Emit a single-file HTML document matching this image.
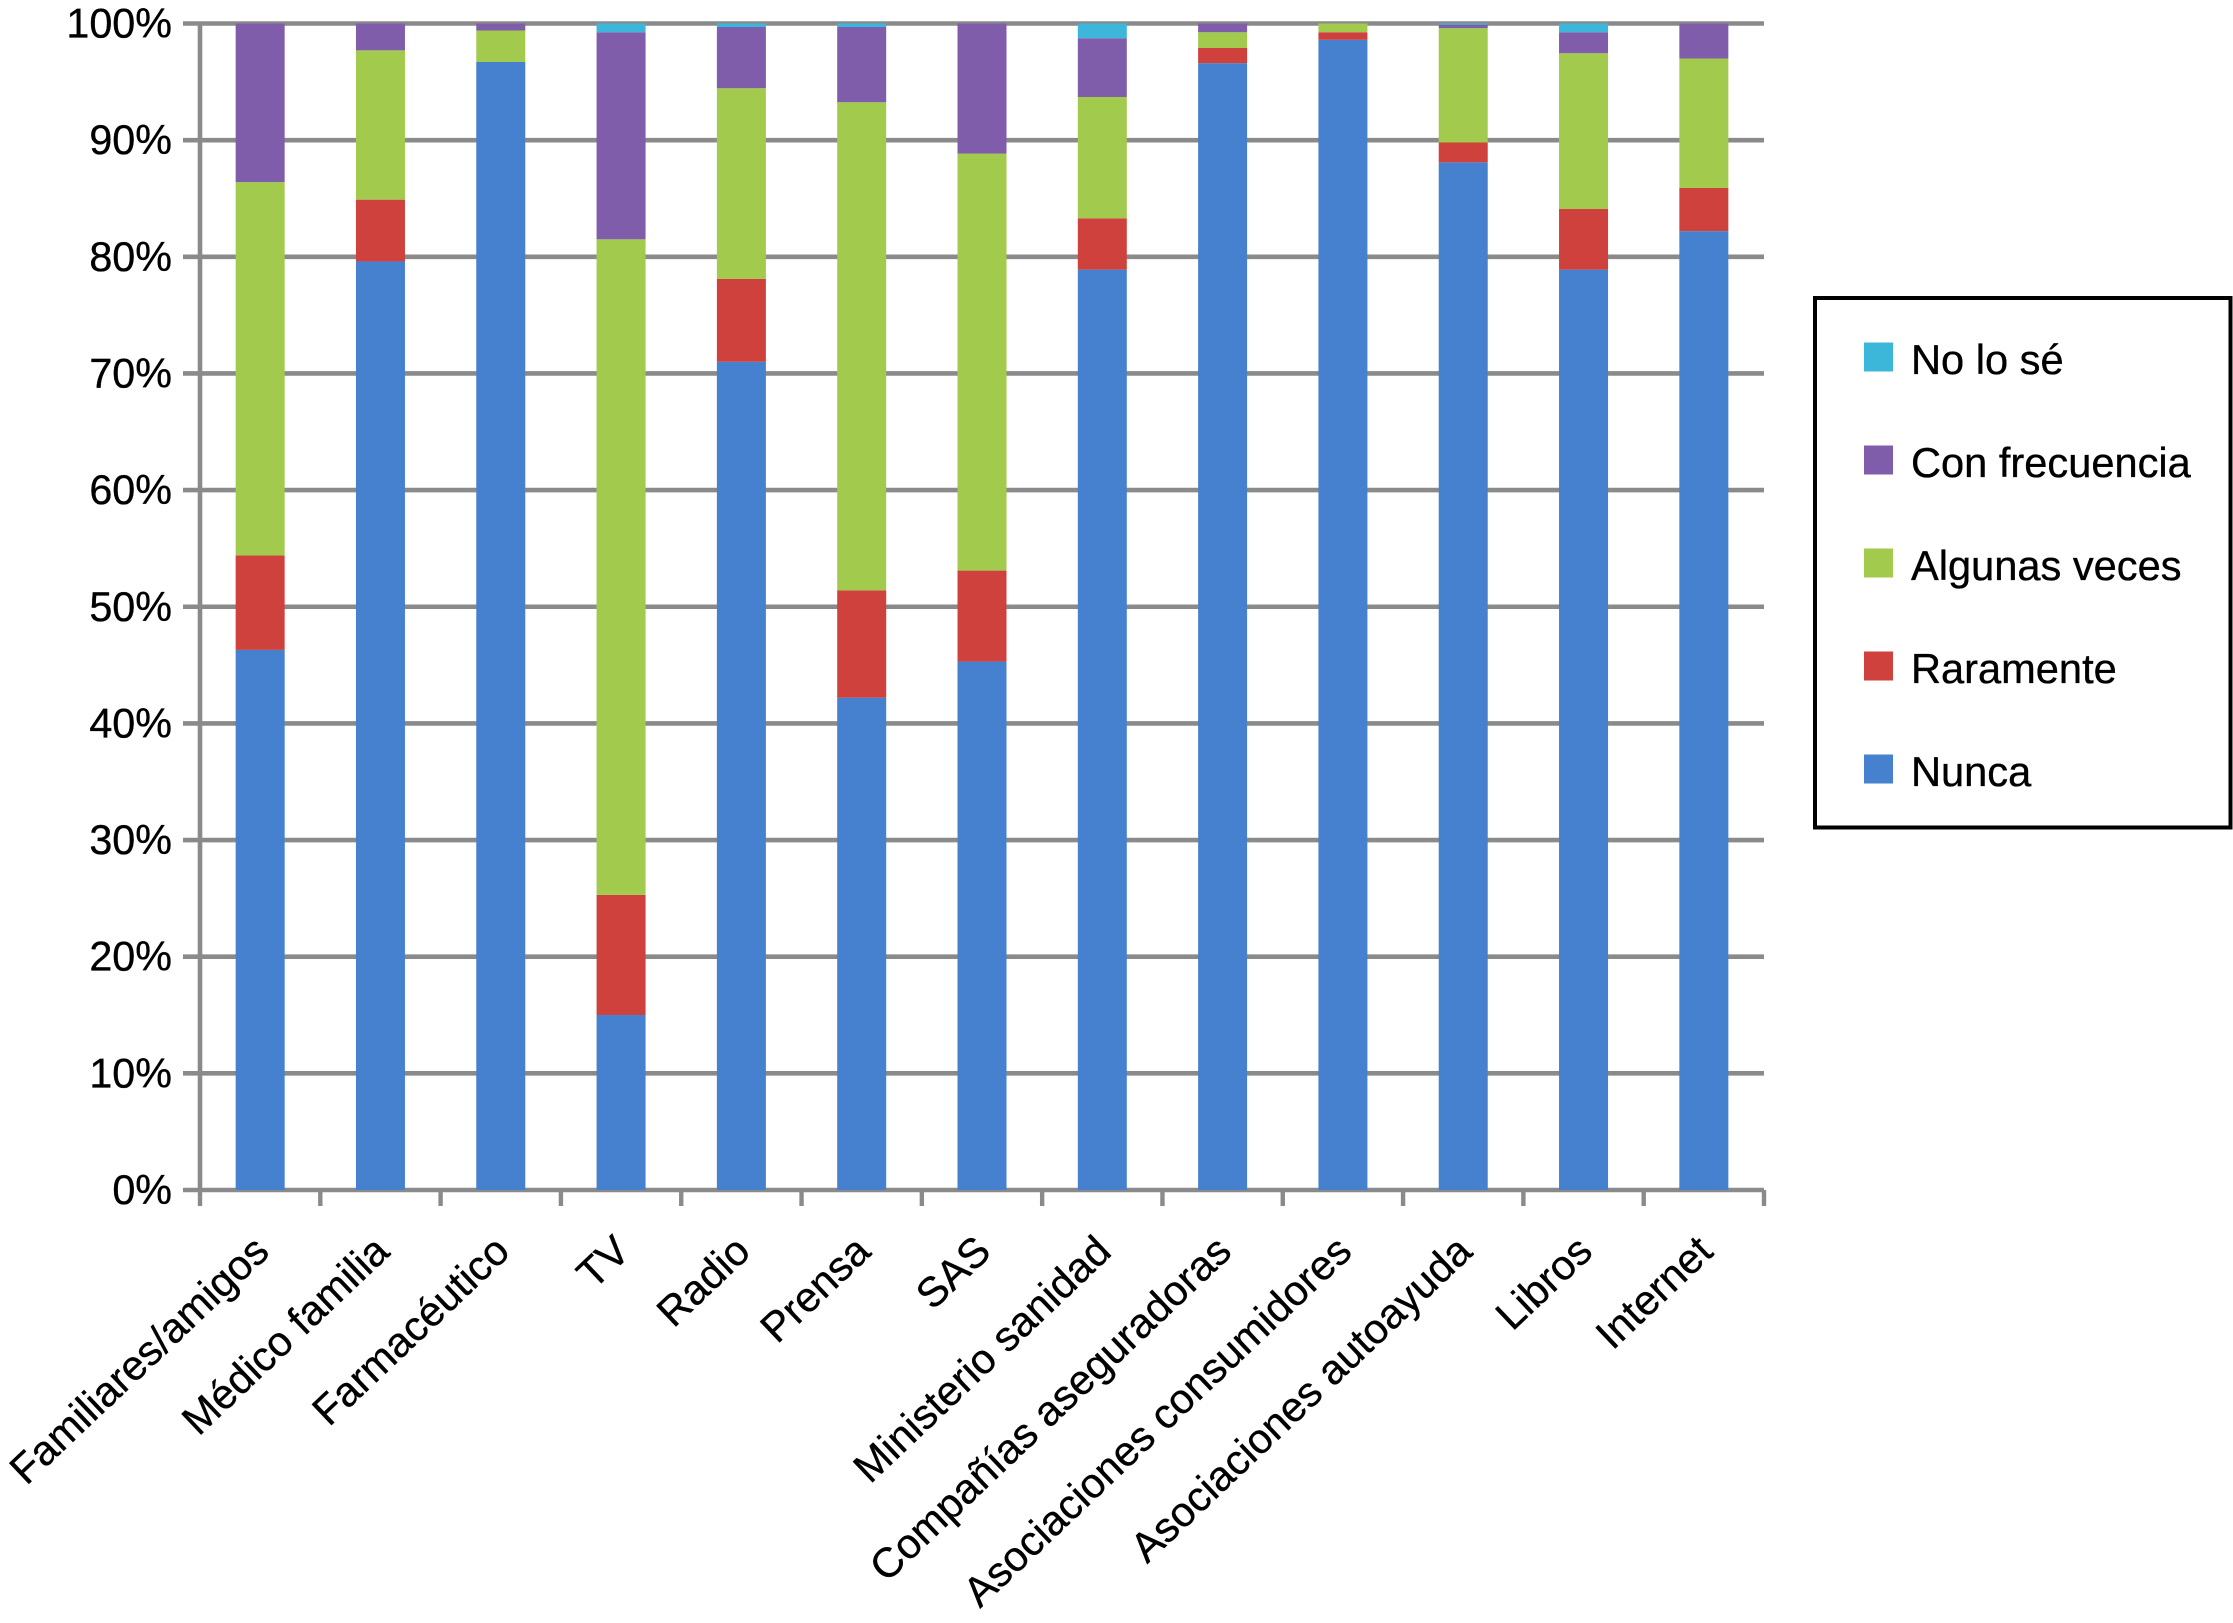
<!DOCTYPE html>
<html lang="es">
<head>
<meta charset="utf-8">
<title>Frecuencia de uso de fuentes de información</title>
<style>
html,body{margin:0;padding:0;background:#fff;}
svg{display:block;font-family:"Liberation Sans",Arial,sans-serif;}
text{stroke:#000;stroke-width:0.35px;}
</style>
</head>
<body>
<svg id="chart" xmlns="http://www.w3.org/2000/svg" width="2233" height="1623" viewBox="0 0 2233 1623">
  <rect x="0" y="0" width="2233" height="1623" fill="#ffffff"/>
  <g id="grid"></g>
  <g id="bars"></g>
  <g id="axes"></g>
  <g id="ylabels" font-size="41.3" fill="#000" text-anchor="end"></g>
  <g id="xlabels" font-size="41.6" fill="#000" text-anchor="end"></g>
  <g>
    <rect x="1815" y="298" width="415.5" height="529.5" fill="#fff" stroke="#000" stroke-width="4"/>
    <g id="legend-items"></g>
  </g>
</svg>
<script>
const categories = ["Familiares/amigos","Médico familia","Farmacéutico","TV","Radio","Prensa","SAS","Ministerio sanidad","Compañías aseguradoras","Asociaciones consumidores","Asociaciones autoayuda","Libros","Internet"];
const nunca      = [46.3,79.6,96.7,15.0,71.0,42.2,45.3,78.9,96.6,98.6,88.1,78.9,82.2];
const raramente  = [8.1,5.3,0,10.3,7.1,9.2,7.8,4.4,1.3,0.65,1.7,5.2,3.7];
const algunas    = [32.0,12.8,2.7,56.2,16.35,41.85,35.75,10.4,1.35,0.75,9.8,13.35,11.1];
const frecuencia = [13.6,2.3,0.6,17.75,5.25,6.45,11.15,5.04,0.75,0,0.3,1.8,3.0];
const nolose     = [0,0,0,0.75,0.3,0.3,0,1.26,0,0,0.1,0.75,0];
const yTicks = [0,10,20,30,40,50,60,70,80,90,100];
const seriesNames = ["Nunca","Raramente","Algunas veces","Con frecuencia","No lo sé"];
const seriesValues = [nunca,raramente,algunas,frecuencia,nolose];
const seriesColors = ["#4581CF","#CF413C","#A2CA4C","#7F5DAB","#3CB6D9"];
const legendOrder = [4,3,2,1,0];

const NS = "http://www.w3.org/2000/svg";
const plot = {left:200,right:1764,top:23.5,bottom:1190};
const AXIS = "#8a8a8a";
function yScale(v){ return plot.bottom - (v/100)*(plot.bottom-plot.top); }
function bandEdge(i){ return plot.left + i*(plot.right-plot.left)/categories.length; }
function bandCenter(i){ return bandEdge(i+0.5); }
function make(tag,attrs,parent){
  const el = document.createElementNS(NS,tag);
  for(const k in attrs){ el.setAttribute(k,attrs[k]); }
  parent.appendChild(el);
  return el;
}
function slug(s){ return s.toLowerCase().normalize("NFD").replace(/[\u0300-\u036f]/g,"").replace(/[^a-z0-9]+/g,"-"); }

const grid = document.getElementById("grid");
const axes = document.getElementById("axes");
const bars = document.getElementById("bars");
const ylabels = document.getElementById("ylabels");
const xlabels = document.getElementById("xlabels");
const legendItems = document.getElementById("legend-items");

yTicks.forEach(function(t){
  const line = make("line",{x1:183,x2:plot.right,y1:yScale(t),y2:yScale(t),stroke:AXIS,"stroke-width":4.6},grid);
  
  
  const label = make("text",{x:172,y:yScale(t)+14},ylabels);
  label.textContent = t + "%";
  
  
});

const yAxis = make("line",{x1:plot.left,x2:plot.left,y1:plot.top,y2:plot.bottom,stroke:AXIS,"stroke-width":4.6},axes);



for(let i=0;i<=categories.length;i++){
  const tick = make("line",{x1:bandEdge(i),x2:bandEdge(i),y1:plot.bottom,y2:1206,stroke:AXIS,"stroke-width":4.4},axes);
  
  
}

const barWidth = 49;
categories.forEach(function(cat,i){
  let acc = 0;
  seriesValues.forEach(function(values,s){
    const v = values[i];
    if(v<=0){ return; }
    const y0 = yScale(acc), y1 = yScale(acc+v);
    const r = make("rect",{x:bandCenter(i)-barWidth/2,y:y1,width:barWidth,height:y0-y1,fill:seriesColors[s]},bars);
    
    
    acc += v;
  });
  const lx = bandCenter(i)+11, ly = 1254;
  const t = make("text",{x:lx,y:ly,transform:"rotate(-43.5 "+lx+" "+ly+")"},xlabels);
  t.textContent = cat;
  
  
});

legendOrder.forEach(function(s,row){
  const cy = 357 + row*103;
  const sw = make("rect",{x:1864,y:cy-14.5,width:29,height:29,fill:seriesColors[s]},legendItems);
  
  
  const lb = make("text",{x:1911,y:cy+17,"font-size":41.6,fill:"#000"},legendItems);
  lb.textContent = seriesNames[s];
  
  
});
</script>
</body>
</html>
